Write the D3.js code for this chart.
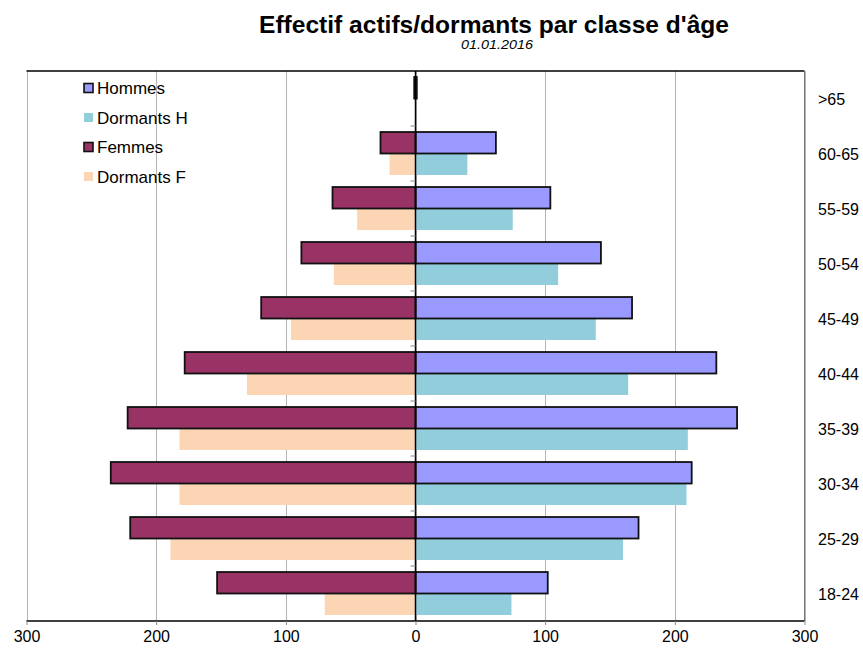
<!DOCTYPE html>
<html lang="fr">
  <head>
    <meta charset="UTF-8">
    <title>Effectif actifs/dormants par classe d'âge</title>
    <style>
      body { margin: 0; background: #fff; }
      svg text { font-family: "Liberation Sans", Arial, sans-serif; fill: #000; }
      .grid line { stroke: #b4b4b4; stroke-width: 1; }
      .axis-x path { stroke: #000; stroke-width: 1.5; }
      .axis-x .tick line { stroke: #888; }
      .axis-x text { font-size: 16px; }
      .cat { font-size: 16px; }
      .legend text { font-size: 17px; }
    </style>
    <script src="https://d3js.org/d3.v7.min.js"></script>
  </head>
  <body>
    <script>
      // data, top row first
      const ages = [">65", "60-65", "55-59", "50-54", "45-49", "40-44", "35-39", "30-34", "25-29", "18-24"];
      const hommes = [1, 62, 104, 143, 167, 232, 248, 213, 172, 102];
      const femmes = [1, 27, 64, 88, 119, 178, 222, 235, 220, 153];
      const dormantsH = [0, 40, 75, 110, 139, 164, 210, 209, 160, 74];
      const dormantsF = [0, 20, 45, 63, 96, 130, 182, 182, 189, 70];
      const xTicks = [-300, -200, -100, 0, 100, 200, 300];

      const width = 863, height = 648;
      const plot = { left: 26.5, right: 804.5, top: 71, bottom: 621 };

      const svg = d3.select("body").append("svg")
        .attr("width", width)
        .attr("height", height);

      const x = d3.scaleLinear()
        .domain([-300, 300])
        .range([plot.left, plot.right]);

      const y = d3.scaleBand()
        .domain(ages)
        .range([plot.top, plot.bottom]);

      const sub = d3.scaleBand()
        .domain(["actif", "dormant"])
        .range([0, y.bandwidth()])
        .paddingInner(0)
        .paddingOuter(0.28);

      // vertical gridlines
      svg.append("g").attr("class", "grid")
        .selectAll("line")
        .data(xTicks)
        .join("line")
        .attr("x1", d => Math.round(x(d)) + 0.5)
        .attr("x2", d => Math.round(x(d)) + 0.5)
        .attr("y1", plot.top)
        .attr("y2", plot.bottom);

      const rows = ages.map((a, i) => ({
        age: a, h: hommes[i], f: femmes[i], dh: dormantsH[i], df: dormantsF[i]
      }));

      const series = [
        { key: "dh", sign: 1, slot: "dormant", color: "#92cddc", stroke: "none" },
        { key: "df", sign: -1, slot: "dormant", color: "#fcd5b4", stroke: "none" },
        { key: "h", sign: 1, slot: "actif", color: "#9999ff", stroke: "#111" },
        { key: "f", sign: -1, slot: "actif", color: "#993366", stroke: "#111" }
      ];

      series.forEach(s => {
        svg.append("g")
          .selectAll("rect")
          .data(rows.filter(d => d[s.key] > 0))
          .join("rect")
          .attr("x", d => Math.min(x(0), x(s.sign * d[s.key])))
          .attr("width", d => Math.abs(x(s.sign * d[s.key]) - x(0)))
          .attr("y", d => y(d.age) + sub(s.slot))
          .attr("height", sub.bandwidth())
          .attr("fill", s.color)
          .attr("stroke", s.stroke)
          .attr("stroke-width", s.stroke === "none" ? 0 : 1.8);
      });

      // zero line with category ticks
      svg.append("line")
        .attr("x1", x(0)).attr("x2", x(0))
        .attr("y1", plot.top).attr("y2", plot.bottom)
        .attr("stroke", "#000").attr("stroke-width", 1.5);

      svg.append("g")
        .selectAll("line")
        .data(ages.slice(1))
        .join("line")
        .attr("x1", x(0) - 5).attr("x2", x(0))
        .attr("y1", d => y(d)).attr("y2", d => y(d))
        .attr("stroke", "#888");

      // frame: top black, right gray
      svg.append("line")
        .attr("x1", plot.left).attr("x2", plot.right)
        .attr("y1", plot.top).attr("y2", plot.top)
        .attr("stroke", "#000").attr("stroke-width", 1.5);
      svg.append("line")
        .attr("x1", plot.right).attr("x2", plot.right)
        .attr("y1", plot.top).attr("y2", plot.bottom)
        .attr("stroke", "#777");

      // bottom axis
      svg.append("g")
        .attr("class", "axis-x")
        .attr("transform", `translate(0,${plot.bottom})`)
        .call(d3.axisBottom(x).tickValues(xTicks).tickSize(4).tickPadding(6)
          .tickFormat(d => Math.abs(d)))
        .call(g => g.select(".domain").attr("d", `M${plot.left},0H${plot.right}`));

      // age labels on the right
      svg.append("g")
        .selectAll("text")
        .data(ages)
        .join("text")
        .attr("class", "cat")
        .attr("x", 818)
        .attr("y", d => y(d) + y.bandwidth() / 2 + 6)
        .text(d => d);

      // legend
      const legendItems = [
        { label: "Hommes", color: "#9999ff", stroke: "#111" },
        { label: "Dormants H", color: "#92cddc", stroke: "none" },
        { label: "Femmes", color: "#993366", stroke: "#111" },
        { label: "Dormants F", color: "#fcd5b4", stroke: "none" }
      ];
      const legend = svg.append("g").attr("class", "legend");
      legendItems.forEach((d, i) => {
        const cy = 88 + i * 29.5;
        legend.append("rect")
          .attr("x", 84).attr("y", cy - 4.5)
          .attr("width", 9).attr("height", 9)
          .attr("fill", d.color)
          .attr("stroke", d.stroke)
          .attr("stroke-width", d.stroke === "none" ? 0 : 1.6);
        legend.append("text")
          .attr("x", 97).attr("y", cy + 6)
          .text(d.label);
      });

      // titles
      svg.append("text")
        .attr("x", 494).attr("y", 33)
        .attr("text-anchor", "middle")
        .attr("font-size", 24)
        .attr("font-weight", "bold")
        .attr("textLength", 470)
        .attr("lengthAdjust", "spacingAndGlyphs")
        .text("Effectif actifs/dormants par classe d'âge");

      svg.append("text")
        .attr("x", 497).attr("y", 49)
        .attr("text-anchor", "middle")
        .attr("font-size", 13)
        .attr("font-style", "italic")
        .attr("textLength", 72)
        .attr("lengthAdjust", "spacingAndGlyphs")
        .text("01.01.2016");
    </script>
  </body>
</html>
